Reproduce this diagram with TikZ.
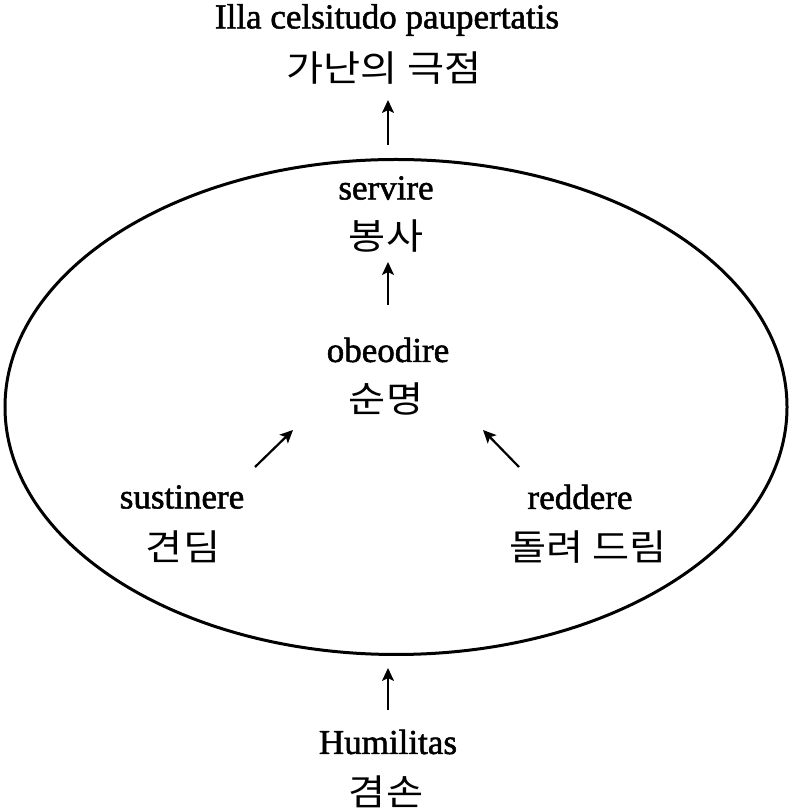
\documentclass[tikz,border=0pt]{standalone}
\usepackage{fontspec}
\setmainfont{Liberation Serif}[FakeBold=1.5]
\newfontfamily\kr{Noto Sans CJK KR}[FakeStretch=1.12]
\usetikzlibrary{arrows.meta, shapes.geometric}
\begin{document}
\begin{tikzpicture}[x=1pt, y=1pt, thick,
    lat/.style = {font=\fontsize{35}{36}\selectfont, inner sep=0pt},
    kor/.style = {font=\kr\fontsize{36}{38}\selectfont, inner sep=0pt},
    arr/.style = {-{Stealth[length=13pt, width=12pt, inset=3pt]}, line width=2.2pt}]
    \useasboundingbox (0,0) rectangle (792,811);
    \node[draw, ellipse, line width=3pt, minimum width=782, minimum height=495, inner sep=0pt] (oval) at (396,404) {};
    % top
    \node[lat] (top)  at (387,791) {Illa celsitudo paupertatis};
    \node[kor] (topk) at (384,743) {가난의 극점};
    \node[lat] (serv)  at (386,623) {servire};
    \node[kor] (servk) at (386,575) {봉사};
    \node[lat] (obe)  at (388,461) {obeodire};
    \node[kor] (obek) at (386,412) {순명};
    \node[lat] (sust)  at (182,314) {sustinere};
    \node[kor] (sustk) at (183,264) {견딤};
    \node[lat] (redd)  at (580,314) {reddere};
    \node[kor] (reddk) at (588,264) {돌려 드림};
    \node[lat] (hum)  at (388,69) {Humilitas};
    \node[kor] (humk) at (386,19) {겸손};
    % arrow ends
    \coordinate (a1) at (388,666); \coordinate (b1) at (388,711);
    \coordinate (a2) at (388,506); \coordinate (b2) at (388,549);
    \coordinate (a3) at (255,344); \coordinate (b3) at (293,381);
    \coordinate (a4) at (519,344); \coordinate (b4) at (483,381);
    \coordinate (a5) at (388,101); \coordinate (b5) at (388,143);
    \foreach \i in {1,...,5}
        \draw[arr] (a\i) -- (b\i);
\end{tikzpicture}
\end{document}
